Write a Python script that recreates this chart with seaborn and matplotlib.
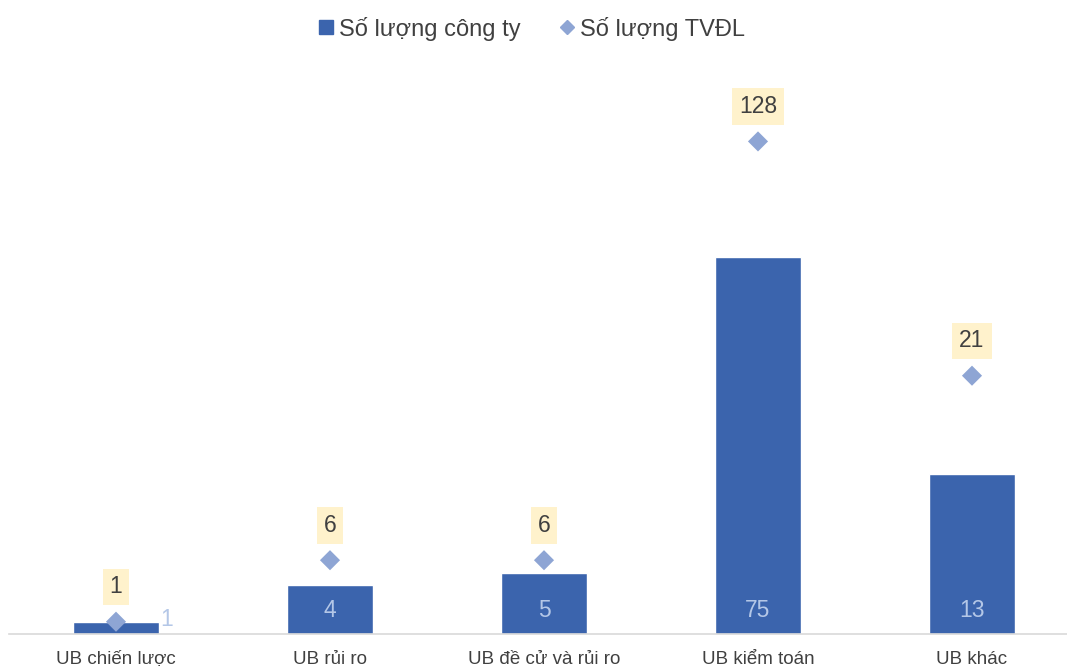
import numpy as np
import pandas as pd
import matplotlib
matplotlib.use("Agg")
import matplotlib.pyplot as plt
from matplotlib.lines import Line2D
import seaborn as sns

# Data
categories = ["UB chiến lược", "UB rủi ro", "UB đề cử và rủi ro", "UB kiểm toán", "UB khác"]
so_luong_cong_ty = [1, 4, 5, 75, 13]
so_luong_tvdl = [1, 6, 6, 128, 21]
series_names = ["Số lượng công ty", "Số lượng TVĐL"]

BAR_COLOR = "#3B64AD"
DIAMOND_COLOR = "#8EA5D4"
INSIDE_LABEL_COLOR = "#B4C7E7"
BOX_COLOR = "#FFF2CC"
TEXT_COLOR = "#404040"
AXIS_COLOR = "#D9D9D9"

sns.set_theme(style="white")
plt.rcParams["font.family"] = ["Liberation Sans", "DejaVu Sans"]

df = pd.DataFrame({"cat": categories, "cty": so_luong_cong_ty, "tvdl": so_luong_tvdl})

# Value axis compressed above a threshold so small and large counts stay readable
T, S = 21.0, 0.178


def fwd(v):
    v = np.asarray(v, dtype=float)
    return np.where(v <= T, v, T + (v - T) * S)


def inv(u):
    u = np.asarray(u, dtype=float)
    return np.where(u <= T, u, T + (u - T) / S)


fig = plt.figure(figsize=(10.67, 6.66), dpi=100)
bottom_px, top_px = 32, 60
ax = fig.add_axes([9 / 1067, bottom_px / 666, 1070 / 1067, (666 - bottom_px - top_px) / 666])

sns.barplot(data=df, x="cat", y="cty", color=BAR_COLOR, width=0.4, saturation=1, ax=ax, zorder=2)
sns.scatterplot(data=df, x="cat", y="tvdl", marker="D", s=105, color=DIAMOND_COLOR,
                edgecolor="none", ax=ax, zorder=3)

ax.set_yscale("function", functions=(fwd, inv))
px_per_unit = 12.3
top_u = (666 - bottom_px - top_px) / px_per_unit
ax.set_ylim(0, float(inv(top_u)))
ax.set_xlim(-0.5, len(categories) - 0.5)

# Bar value labels near the bar base; short bars get the label beside them
for i, v in enumerate(so_luong_cong_ty):
    if fwd(v) * px_per_unit < 30:
        ax.annotate(str(v), xy=(i + 0.2, 0), xytext=(1, 10.5), textcoords="offset points",
                    ha="left", va="center", fontsize=16.5, color=INSIDE_LABEL_COLOR, zorder=4)
    else:
        ax.annotate(str(v), xy=(i, 0), xytext=(0, 17), textcoords="offset points",
                    ha="center", va="center", fontsize=16.5, color=INSIDE_LABEL_COLOR, zorder=4)

# Diamond value labels in highlighted boxes
for i, v in enumerate(so_luong_tvdl):
    ax.annotate(str(v), xy=(i, v), xytext=(0, 25), textcoords="offset points",
                ha="center", va="center", fontsize=16.5, color=TEXT_COLOR, zorder=5,
                bbox=dict(boxstyle="square,pad=0.3", fc=BOX_COLOR, ec="none"))

ax.set_xlabel("")
ax.set_ylabel("")
ax.set_yticks([])
ax.tick_params(axis="x", length=0, pad=12, labelsize=13.5, labelcolor=TEXT_COLOR)
for side in ["top", "right", "left"]:
    ax.spines[side].set_visible(False)
ax.spines["bottom"].set_color(AXIS_COLOR)
ax.spines["bottom"].set_linewidth(1.2)
ax.grid(False)

handles = [
    Line2D([], [], marker="s", linestyle="none", markersize=9.4, color=BAR_COLOR),
    Line2D([], [], marker="D", linestyle="none", markersize=7.1, color=DIAMOND_COLOR),
]
fig.legend(handles, series_names, loc="upper center", bbox_to_anchor=(0.497, 1.007), ncol=2,
           frameon=False, fontsize=17, handletextpad=0.1, columnspacing=1.5,
           labelcolor=TEXT_COLOR, handlelength=0.9)

fig.savefig("out.png", dpi=100)
